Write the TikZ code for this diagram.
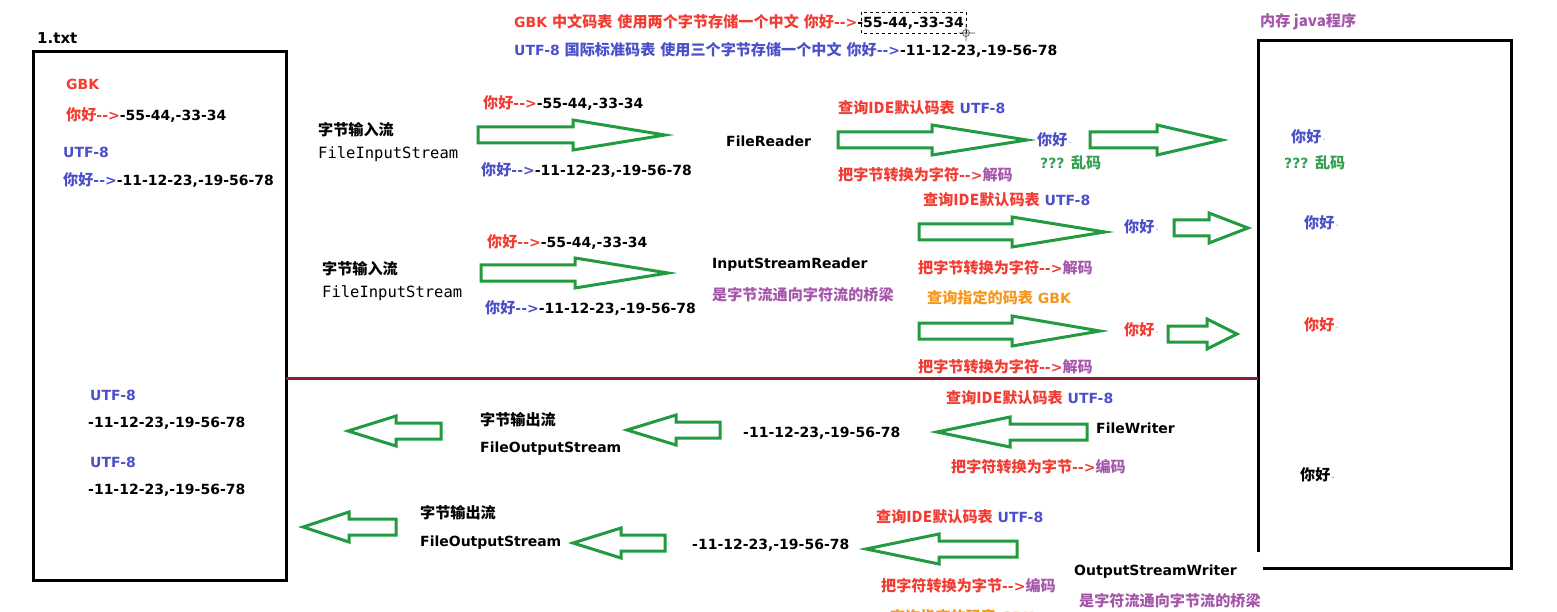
\documentclass[tikz,border=0pt]{standalone}
\usepackage{fontspec}
\newfontfamily\latfont{DejaVu Sans}
\newfontfamily\zhfont{Noto Sans CJK SC}[Scale=1.08]
\newfontfamily\codefont{DejaVu Sans Mono}
\usetikzlibrary{positioning}
\definecolor{cred}{HTML}{F03C32}
\definecolor{cblue}{HTML}{4B50C8}
\definecolor{cpurple}{HTML}{A555AA}
\definecolor{cgreen}{HTML}{32A050}
\definecolor{corange}{HTML}{F5961E}
\definecolor{carrow}{HTML}{229A40}
\definecolor{cline}{HTML}{8C1E2D}
\tikzset{%
    txt/.style={anchor=west, inner sep=0pt, font=\latfont\bfseries\fontsize{14}{17}\selectfont},
    code/.style={anchor=west, inner sep=0pt, font=\codefont\fontsize{15.5}{18}\selectfont},
    fat/.style={draw=carrow, line width=3pt},
    frame/.style={line width=3pt},
    sepline/.style={draw=cline, line width=3pt},
}
\newcommand\zh[1]{{\zhfont #1}}
\newcommand\dotmark{{\mdseries\fontsize{8}{8}\selectfont\,·}}
\newcommand\fatarrow[4]{\draw[fat] (#1,#4-8) -- (#2,#4-8) -- (#2,#4-15) -- (#3,#4) -- (#2,#4+15) -- (#2,#4+8) -- (#1,#4+8) -- cycle;}
\begin{document}
\begin{tikzpicture}[x=1pt,y=-1pt]
    \useasboundingbox (0,0) rectangle (1557,612);
    % file and memory
    \node[txt, font=\latfont\bfseries\fontsize{15}{17}\selectfont] (txt) at (37,38) {1.txt};
    \draw[frame] (33,52) rectangle (286,580);
    \node[txt, text=cpurple] (mem) at (1260,22) {\zh{内存 java程序}};
    \draw[frame] (1258,552) -- (1258,41) -- (1511,41) -- (1511,568) -- (1263,568);
    \draw[sepline] (286,378) -- (1258,378);
    % tables
    \node[txt, text=cred] (gbkinfo) at (514,22) {GBK \zh{中文码表} \zh{使用两个字节存储一个中文} \zh{你好}-->\textcolor{black}{-55-44,-33-34}};
    \draw[dashed, line width=0.8pt] (861,12) rectangle (966,33);
    \draw[line width=0.6pt, black!70] (966,33) circle (3.5) (966,25) -- (966,41) (959,33) -- (975,33);
    \node[txt, text=cblue] (utfinfo) at (514,50) {UTF-8 \zh{国际标准码表} \zh{使用三个字节存储一个中文} \zh{你好}-->\textcolor{black}{-11-12-23,-19-56-78}};
    \node[txt, text=cred] (gbk) at (66,84) {GBK};
    \node[txt, text=cred] (gbkcode) at (66,115) {\zh{你好}-->\textcolor{black}{-55-44,-33-34}};
    \node[txt, text=cblue] (utf) at (63,152) {UTF-8};
    \node[txt, text=cblue] (utfcode) at (63,180) {\zh{你好}-->\textcolor{black}{-11-12-23,-19-56-78}};
    % FileReader
    \node[txt] (bytein1) at (318,130) {\zh{字节输入流}};
    \node[code] (fis1) at (318,154) {FileInputStream};
    \node[txt, text=cred] (bytes1g) at (483,103) {\zh{你好}-->\textcolor{black}{-55-44,-33-34}};
    \node[txt, text=cblue] (bytes1u) at (481,170) {\zh{你好}-->\textcolor{black}{-11-12-23,-19-56-78}};
    \fatarrow{478}{573}{665}{135}
    \node[txt] (fr) at (726,141) {FileReader};
    \node[txt, text=cred] (fr-q) at (838,108) {\zh{查询IDE默认码表} \textcolor{cblue}{UTF-8}};
    \fatarrow{838}{932}{1027}{140}
    \node[txt, text=cred] (fr-d) at (838,175) {\zh{把字节转换为字符}-->\textcolor{cpurple}{\zh{解码}}};
    \node[txt, text=cblue] (fr-h) at (1037,140) {\zh{你好}\dotmark};
    \node[txt, text=cgreen] (fr-g) at (1040,163) {??? \zh{乱码}};
    \fatarrow{1090}{1157}{1222}{140}
    \node[txt, text=cblue] (mem-h1) at (1291,137) {\zh{你好}\dotmark};
    \node[txt, text=cgreen] (mem-g1) at (1284,163) {??? \zh{乱码}};
    % InputStreamReader
    \node[txt] (bytein2) at (322,269) {\zh{字节输入流}};
    \node[code] (fis2) at (322,293) {FileInputStream};
    \node[txt, text=cred] (bytes2g) at (487,242) {\zh{你好}-->\textcolor{black}{-55-44,-33-34}};
    \node[txt, text=cblue] (bytes2u) at (485,308) {\zh{你好}-->\textcolor{black}{-11-12-23,-19-56-78}};
    \fatarrow{481}{575}{668}{273}
    \node[txt] (isr) at (712,265) {InputStreamReader};
    \node[txt, text=cpurple] (isr-note) at (712,295) {\zh{是字节流通向字符流的桥梁}};
    \node[txt, text=cred] (isr-q1) at (923,200) {\zh{查询IDE默认码表} \textcolor{cblue}{UTF-8}};
    \fatarrow{919}{1012}{1105}{232}
    \node[txt, text=cblue] (isr-h1) at (1124,227) {\zh{你好}\dotmark};
    \fatarrow{1174}{1209}{1248}{228}
    \node[txt, text=cred] (isr-d1) at (918,268) {\zh{把字节转换为字符}-->\textcolor{cpurple}{\zh{解码}}};
    \node[txt, text=corange] (isr-q2) at (927,298) {\zh{查询指定的码表} GBK};
    \fatarrow{919}{1012}{1100}{331}
    \node[txt, text=cred] (isr-h2) at (1124,330) {\zh{你好}\dotmark};
    \fatarrow{1168}{1207}{1237}{334}
    \node[txt, text=cred] (isr-d2) at (918,367) {\zh{把字节转换为字符}-->\textcolor{cpurple}{\zh{解码}}};
    \node[txt, text=cblue] (mem-h2) at (1304,223) {\zh{你好}\dotmark};
    \node[txt, text=cred] (mem-h3) at (1304,325) {\zh{你好}\dotmark};
    % FileWriter
    \node[txt, text=cblue] (out-u1) at (90,395) {UTF-8};
    \node[txt] (out-n1) at (88,423) {-11-12-23,-19-56-78};
    \node[txt, text=cblue] (out-u2) at (90,462) {UTF-8};
    \node[txt] (out-n2) at (88,490) {-11-12-23,-19-56-78};
    \fatarrow{441}{396}{348}{431}
    \node[txt] (byteout1) at (480,420) {\zh{字节输出流}};
    \node[txt] (fos1) at (480,449) {FileOutputStream};
    \fatarrow{720}{676}{627}{430}
    \node[txt] (fw-n) at (743,433) {-11-12-23,-19-56-78};
    \node[txt, text=cred] (fw-q) at (946,398) {\zh{查询IDE默认码表} \textcolor{cblue}{UTF-8}};
    \fatarrow{1087}{1010}{937}{432}
    \node[txt] (fw) at (1096,428) {FileWriter};
    \node[txt, text=cred] (fw-e) at (951,467) {\zh{把字符转换为字节}-->\textcolor{cpurple}{\zh{编码}}};
    \node[txt] (mem-h4) at (1300,475) {\zh{你好}\dotmark};
    % OutputStreamWriter
    \fatarrow{396}{349}{303}{527}
    \node[txt] (byteout2) at (420,513) {\zh{字节输出流}};
    \node[txt] (fos2) at (420,543) {FileOutputStream};
    \fatarrow{665}{621}{573}{543}
    \node[txt] (osw-n) at (692,545) {-11-12-23,-19-56-78};
    \node[txt, text=cred] (osw-q1) at (876,517) {\zh{查询IDE默认码表} \textcolor{cblue}{UTF-8}};
    \fatarrow{1017}{939}{866}{549}
    \node[txt] (osw) at (1074,572) {OutputStreamWriter};
    \node[txt, text=cred] (osw-e) at (881,586) {\zh{把字符转换为字节}-->\textcolor{cpurple}{\zh{编码}}};
    \node[txt, text=cpurple] (osw-note) at (1079,601) {\zh{是字符流通向字节流的桥梁}};
    \node[txt, text=corange] (osw-q2) at (890,617) {\zh{查询指定的码表} GBK};
\end{tikzpicture}
\end{document}
